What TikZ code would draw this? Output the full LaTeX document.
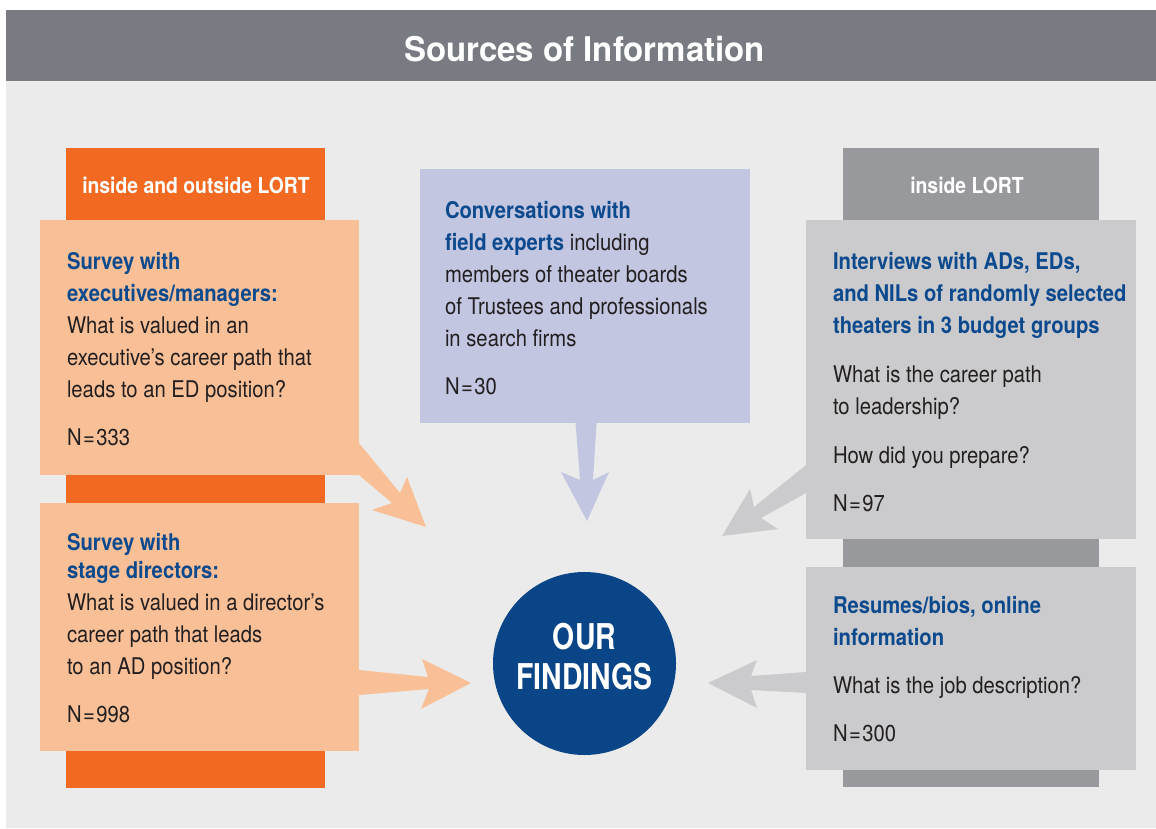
\documentclass[tikz,border=0pt]{standalone}
\usepackage{fontspec}
\setmainfont{TeX Gyre Heros}[FakeStretch=0.88]
\newfontfamily\titlefont{TeX Gyre Heros}[FakeStretch=0.97]
\newfontfamily\circfont{TeX Gyre Heros}[FakeStretch=0.8]
\definecolor{hdrgray}{HTML}{797B83}
\definecolor{bggray}{HTML}{EAEBEA}
\definecolor{dorange}{HTML}{F26A21}
\definecolor{lorange}{HTML}{F9C097}
\definecolor{tblue}{HTML}{0D4A8D}
\definecolor{cblue}{HTML}{0A4587}
\definecolor{lav}{HTML}{C2C6E0}
\definecolor{lgray}{HTML}{CBCBCD}
\definecolor{dgray}{HTML}{98999D}
\definecolor{tdark}{HTML}{231F20}
\newcommand\hilite[1]{{\bfseries\color{tblue}#1}}
\newcommand\Nis{N\kern1.5pt=\kern1.5pt}
\begin{document}
\begin{tikzpicture}[x=1pt,y=-1pt,
  panel/.style={rectangle, inner sep=0pt, outer sep=0pt, anchor=north west, draw=none},
  body/.style={anchor=north west, inner sep=0pt, outer sep=0pt, align=left, text=tdark,
    font=\fontsize{23}{32}\selectfont},
  tab/.style={anchor=base, inner sep=0pt, text=white, font=\fontsize{22}{26}\selectfont\bfseries},
  arr/.style={draw=none}]
\useasboundingbox (0,0) rectangle (1156,829);
\fill[white] (0,0) rectangle (1156,829);
% header and background
\node[panel, fill=hdrgray, minimum width=1150pt, minimum height=71pt] (hdr) at (6,10) {};
\node[panel, fill=bggray, minimum width=1150pt, minimum height=747pt] (bg) at (6,81) {};
\node[anchor=base, inner sep=0pt, text=white, font=\titlefont\fontsize{34}{40}\selectfont\bfseries] (title) at (584.5,62) {Sources of Information};
% strips
\node[panel, fill=dorange, minimum width=259pt, minimum height=640pt] (ostrip) at (66,148) {};
\node[panel, fill=dgray, minimum width=256pt, minimum height=639pt] (gstrip) at (843,148) {};
\node[tab] (otab) at (196,194) {inside and outside LORT};
\node[tab] (gtab) at (967,194) {inside LORT};
% boxes
\node[panel, fill=lorange, minimum width=319pt, minimum height=255pt] (s1) at (40,220) {};
\node[panel, fill=lorange, minimum width=319pt, minimum height=248pt] (s2) at (40,503) {};
\node[panel, fill=lav, minimum width=330pt, minimum height=254pt] (conv) at (420,169) {};
\node[panel, fill=lgray, minimum width=330pt, minimum height=319pt] (intv) at (806,220) {};
\node[panel, fill=lgray, minimum width=330pt, minimum height=203pt] (res) at (806,567) {};
% circle
\node[circle, fill=cblue, minimum size=183pt, inner sep=0pt] (find) at (584.5,663.5) {};
\node[anchor=north, inner sep=0pt, align=center, text=white, font=\circfont\fontsize{35.5}{40}\selectfont\bfseries] (findtxt) at (584.5,621) {\strut OUR\\FINDINGS};
% arrows
\fill[lorange] (352,443) -- (359,443) -- (400,493) -- (407,477) -- (426,527) -- (372,510) -- (392,503) -- (359,475) -- (352,475) -- cycle;
\fill[lorange] (352,670) -- (359,670) -- (428,677) -- (422,659) -- (471,683) -- (421,709) -- (429,689) -- (359,695) -- (352,695) -- cycle;
\fill[lav] (575,416) -- (597,416) -- (593,480) -- (609,472) -- (587,521) -- (561,472) -- (580,480) -- cycle;
\fill[lgray] (813,465) -- (806,465) -- (754,507) -- (750,489) -- (722,536) -- (778,529) -- (761,518) -- (806,493) -- (813,493) -- cycle;
\fill[lgray] (813,672) -- (806,672) -- (751,676) -- (757,660) -- (708,683) -- (757,708) -- (751,690) -- (806,693) -- (813,693) -- cycle;
% texts
\node[body] (t1) at (67,246.6) {\strut\hilite{Survey with}\\
  \hilite{executives/managers:}\\
  What is valued in an\\
  executive’s career path that\\
  leads to an ED position?\\[16pt]
  \Nis333};
\node[body] (t2) at (67,527.6) {\strut\hilite{Survey with}\\[-4pt]
  \hilite{stage directors:}\\
  What is valued in a director’s\\
  career path that leads\\
  to an AD position?\\[16pt]
  \Nis998};
\node[body] (t3) at (445,195.6) {\strut\hilite{Conversations with}\\
  \hilite{field experts} including\\
  members of theater boards\\
  of Trustees and professionals\\
  in search firms\\[16pt]
  \Nis30};
\node[body] (t4) at (833,246.6) {\strut\hilite{Interviews with ADs, EDs,}\\
  \hilite{and NILs of randomly selected}\\
  \hilite{theaters in 3 budget groups}\\[17pt]
  What is the career path\\
  to leadership?\\[17pt]
  How did you prepare?\\[16pt]
  \Nis97};
\node[body] (t5) at (833,590.6) {\strut\hilite{Resumes/bios, online}\\
  \hilite{information}\\[16pt]
  What is the job description?\\[16pt]
  \Nis300};
\end{tikzpicture}
\end{document}
